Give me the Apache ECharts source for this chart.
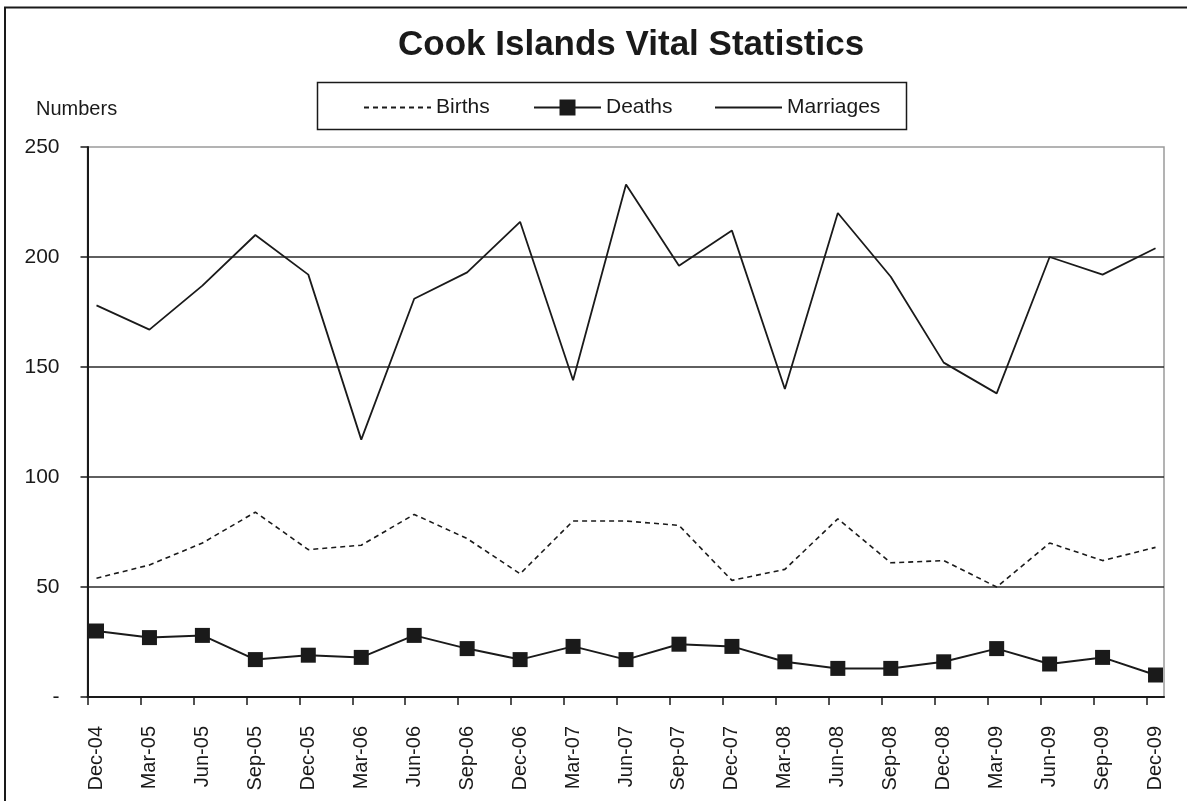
<!DOCTYPE html>
<html>
<head>
<meta charset="utf-8">
<script src="https://cdn.jsdelivr.net/npm/echarts@6/dist/echarts.min.js"></script>
<style>
html,body{margin:0;padding:0;background:#fff;}
#chart{width:1187px;height:801px;}
</style>
</head>
<body>
<div id="chart"></div>
<script>
const months = ['Dec-04','Mar-05','Jun-05','Sep-05','Dec-05','Mar-06','Jun-06','Sep-06','Dec-06','Mar-07','Jun-07','Sep-07','Dec-07','Mar-08','Jun-08','Sep-08','Dec-08','Mar-09','Jun-09','Sep-09','Dec-09'];
const births = [54,60,70,84,67,69,83,72,56,80,80,78,53,58,81,61,62,50,70,62,68];
const deaths = [30,27,28,17,19,18,28,22,17,23,17,24,23,16,13,13,16,22,15,18,10];
const marriages = [178,167,187,210,192,117,181,193,216,144,233,196,212,140,220,191,152,138,200,192,204];
const yTicks = [0,50,100,150,200,250];
const yTickLabels = ['-','50','100','150','200','250'];

const INK = '#1a1a1a';
const FONT = "'Liberation Sans', Arial, sans-serif";

const chart = echarts.init(document.getElementById('chart'), null, {renderer:'canvas'});
const toPairs = arr => arr.map((v, i) => [i, v]);

const legendBase = {
  top: 97, itemWidth: 67, itemHeight: 20, padding: 0,
  textStyle: {fontSize: 21, fontFamily: FONT, color: INK},
  selectedMode: false
};
const noSymbol = {color: 'rgba(0,0,0,0)', borderColor: 'rgba(0,0,0,0)', borderWidth: 0};

chart.setOption({
  animation: false,
  backgroundColor: '#fff',
  title: [
    {text: 'Cook Islands Vital Statistics', left: 398, top: 28, padding: 0,
     textStyle: {fontSize: 35, fontWeight: 'bold', fontFamily: FONT, color: INK}},
    {text: 'Numbers', left: 36, top: 99, padding: 0,
     textStyle: {fontSize: 20, fontWeight: 'normal', fontFamily: FONT, color: INK}}
  ],
  graphic: [
    {type: 'rect', shape: {x: 5, y: 7.5, width: 1200, height: 820},
     style: {fill: 'none', stroke: INK, lineWidth: 2}, silent: true, z: -1},
    {type: 'rect', shape: {x: 317.5, y: 82.5, width: 589, height: 47},
     style: {fill: 'none', stroke: INK, lineWidth: 1.5}, silent: true}
  ],
  legend: [
    Object.assign({}, legendBase, {data: ['Births'], left: 363, itemStyle: noSymbol}),
    Object.assign({}, legendBase, {data: ['Deaths'], left: 533}),
    Object.assign({}, legendBase, {data: ['Marriages'], left: 714, itemStyle: noSymbol})
  ],
  grid: {left: 87.5, right: 23, top: 147, bottom: 104, show: true,
         borderColor: '#9a9a9a', borderWidth: 1.5, containLabel: false},
  xAxis: {
    type: 'value', min: -0.17, max: 20.16,
    axisLine: {show: true, onZero: false, lineStyle: {color: INK, width: 2}},
    axisTick: {show: true, length: 8, customValues: months.map((m, i) => i - 0.17),
               lineStyle: {color: INK, width: 1.5}},
    axisLabel: {customValues: months.map((m, i) => i), formatter: v => months[Math.round(v)],
                rotate: 90, margin: 29, fontSize: 20, fontFamily: FONT, color: INK,
                showMinLabel: true, showMaxLabel: true, hideOverlap: false},
    splitLine: {show: false}
  },
  yAxis: {
    type: 'value', min: 0, max: 250, interval: 50,
    axisLine: {show: true, onZero: false, lineStyle: {color: INK, width: 2}},
    axisTick: {show: true, length: 7, lineStyle: {color: INK, width: 1.5}},
    axisLabel: {formatter: v => yTickLabels[yTicks.indexOf(v)], margin: 28,
                fontSize: 21, fontFamily: FONT, color: INK},
    splitLine: {show: true, showMaxLine: false, showMinLine: false, lineStyle: {color: '#2a2a2a', width: 1.5}}
  },
  series: [
    {name: 'Births', type: 'line', data: toPairs(births), symbol: 'none',
     lineStyle: {color: INK, width: 1.6, type: [5, 4]}, itemStyle: {color: INK}},
    {name: 'Deaths', type: 'line', data: toPairs(deaths), symbol: 'rect', symbolSize: 15,
     lineStyle: {color: INK, width: 2}, itemStyle: {color: INK}},
    {name: 'Marriages', type: 'line', data: toPairs(marriages), symbol: 'none',
     lineStyle: {color: INK, width: 1.8}, itemStyle: {color: INK}}
  ]
});
</script>
</body>
</html>
